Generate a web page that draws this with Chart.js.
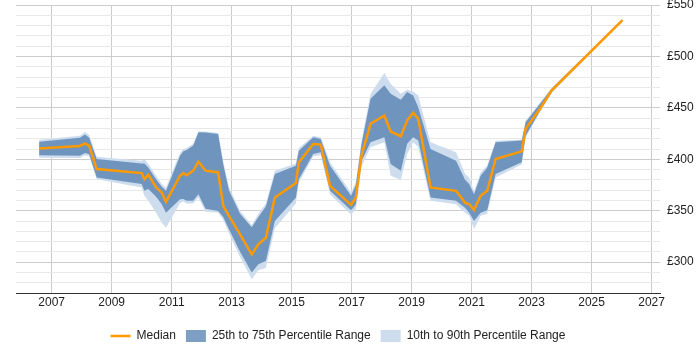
<!DOCTYPE html>
<html>
<head>
<meta charset="utf-8">
<script src="https://cdn.jsdelivr.net/npm/chart.js@4"></script>
<style>
  html, body { margin: 0; padding: 0; background: #fff; }
  #wrap { width: 700px; height: 350px; }
</style>
</head>
<body>
<div id="wrap"><canvas id="myCanvas"></canvas></div>
<script>
// dates as decimal years
const dates = [2006.58, 2007.94, 2008.11, 2008.25, 2008.5, 2010.0, 2010.09, 2010.22, 2010.48, 2010.67,
  2010.81, 2011.28, 2011.39, 2011.5, 2011.72, 2011.89, 2012.13, 2012.55, 2012.72, 2012.91,
  2013.28, 2013.67, 2013.89, 2014.14, 2014.44, 2015.14, 2015.24, 2015.72, 2015.97, 2016.28,
  2016.98, 2017.14, 2017.33, 2017.63, 2018.09, 2018.3, 2018.64, 2018.85, 2019.05, 2019.22,
  2019.63, 2020.48, 2020.78, 2020.92, 2021.08, 2021.3, 2021.52, 2021.8, 2022.67, 2022.8,
  2023.28, 2023.67, 2026.03];

const median = [410.4, 413, 415.5, 413, 390.5, 386.6, 380.7, 385, 372.6, 367.7,
  358.6, 384, 386.6, 384.5, 388.9, 397.7, 388.9, 387.2, 354.7, 344.9,
  327, 307.5, 317.3, 323.7, 362.8, 377, 397, 414.9, 414.3, 374.2,
  355.7, 362.8, 404, 434.5, 442.6, 427, 422.4, 437.7, 445.2, 439.3,
  372.6, 369.3, 357.9, 356.3, 350.8, 364.5, 369.3, 400.3, 407.7, 429.6,
  449.1, 467, 535.4];

const p25 = [404, 403.5, 406, 405, 382.4, 376, 369.3, 371, 363.5, 356.3,
  348, 361.2, 361.5, 359.6, 359.6, 366, 352, 349.8, 344, 332,
  310, 290, 298, 301, 340, 362.5, 380.7, 405.2, 406.8, 369.3,
  350.5, 356, 398.6, 416.5, 421.4, 395.4, 388.9, 415, 421.4, 418.2,
  362.8, 359.6, 353, 348, 340, 348, 350.5, 385.6, 397, 423,
  447, 465.3, 535];

const p75 = [417, 421, 424, 421, 400.3, 396, 396, 392, 380.7, 373.2,
  369.3, 403.5, 407.7, 409, 413.3, 426.3, 426, 424.7, 395, 370,
  347, 334, 344, 354, 385.6, 393.7, 408.4, 421.4, 419.8, 393.7,
  364.5, 375, 415, 458.9, 471.9, 463.8, 457.9, 465.3, 462.1, 450.7,
  410, 398.6, 380, 375.9, 366, 384, 392, 416.5, 418.2, 436,
  454, 468.6, 536];

const p10 = [401.5, 401.3, 404, 403, 380.7, 372.6, 364.5, 359.6, 348, 338.4,
  333.5, 357.6, 359, 357, 357, 363, 349, 348, 341, 328,
  305, 283.4, 292, 294.4, 333, 357, 377.5, 403, 404, 366,
  346, 352, 393, 411.6, 416.5, 384, 380, 405, 416.5, 412,
  359.6, 356.3, 348, 345, 332.2, 345, 347, 382.4, 395, 421,
  446, 464.5, 534.5];

const p90 = [419, 423, 426.5, 423.5, 402.5, 398.6, 400, 395.6, 384, 375.9,
  372.6, 406.4, 410, 411, 415, 427, 427, 425.5, 398, 373,
  350, 336, 347, 357, 388.9, 396, 411, 423, 421.5, 397,
  367.7, 378, 418, 463.8, 484, 473.5, 463.8, 467.7, 466, 462.1,
  416.5, 406.8, 386, 382.4, 369, 387.2, 394, 418, 419, 437.7,
  455, 469.5, 536.5];

const yearTicks = [2007, 2009, 2011, 2013, 2015, 2017, 2019, 2021, 2023, 2025, 2027];

const pts = arr => arr.map((v, i) => ({x: dates[i], y: v}));

const darkBand = 'rgba(71,118,171,0.7)';
const lightBand = 'rgb(205,221,238)';
const orange = '#ff9900';

Chart.defaults.font.family = 'Arial, "Liberation Sans", sans-serif';
Chart.defaults.font.size = 12;
Chart.defaults.color = '#333';

// center the legend under the plot area instead of the whole canvas
const legendShift = {
  id: 'legendShift',
  afterLayout(chart) {
    const lg = chart.legend;
    const mid = (chart.chartArea.left + chart.chartArea.right) / 2;
    const d = mid - (lg.left + lg.right) / 2;
    lg.left += d;
    lg.right += d;
  }
};

const config = {
  type: 'line',
  data: {
    datasets: [
      {
        label: 'Median',
        data: pts(median),
        borderColor: orange,
        backgroundColor: orange,
        borderWidth: 2.5,
        pointRadius: 0,
        pointStyle: 'line',
        fill: false,
        order: 0
      },
      {
        label: '25th to 75th Percentile Range',
        data: pts(p75),
        borderWidth: 0,
        borderColor: darkBand,
        backgroundColor: darkBand,
        pointRadius: 0,
        pointStyle: 'rect',
        fill: {target: 2},
        order: 1
      },
      {
        label: 'p25',
        data: pts(p25),
        borderWidth: 0,
        borderColor: 'rgba(0,0,0,0)',
        pointRadius: 0,
        fill: false,
        order: 1
      },
      {
        label: '10th to 90th Percentile Range',
        data: pts(p90),
        borderWidth: 0,
        borderColor: lightBand,
        backgroundColor: lightBand,
        pointRadius: 0,
        pointStyle: 'rect',
        fill: {target: 4},
        order: 2
      },
      {
        label: 'p10',
        data: pts(p10),
        borderWidth: 0,
        borderColor: 'rgba(0,0,0,0)',
        pointRadius: 0,
        fill: false,
        order: 2
      }
    ]
  },
  options: {
    responsive: true,
    maintainAspectRatio: false,
    animation: false,
    layout: {padding: {left: 16, right: 0, top: 5, bottom: -2}},
    plugins: {
      tooltip: {enabled: false},
      legend: {
        position: 'bottom',
        labels: {
          filter: item => item.text !== 'p25' && item.text !== 'p10',
          usePointStyle: true,
          pointStyleWidth: 20,
          boxHeight: 12,
          padding: 10,
          color: '#222'
        }
      }
    },
    scales: {
      x: {
        type: 'linear',
        min: 2005.81,
        max: 2027.28,
        afterBuildTicks: scale => {
          scale.ticks = yearTicks.map(v => ({value: v}));
        },
        afterFit: scale => { scale.height = 27; },
        ticks: {
          callback: v => String(v),
          maxRotation: 0,
          autoSkip: false,
          padding: 2,
          color: '#222'
        },
        grid: {color: '#cccccc', drawTicks: false},
        border: {color: '#333', width: 1}
      },
      y: {
        position: 'right',
        min: 270,
        max: 550,
        afterFit: scale => {
          scale.width = 40;
          scale.paddingTop = 0;
          scale.paddingBottom = 0;
        },
        ticks: {
          stepSize: 10,
          autoSkip: false,
          padding: 7,
          color: '#222',
          callback: v => (v % 50 === 0 ? '£' + v : '')
        },
        grid: {
          drawTicks: false,
          color: ctx => (ctx.tick && ctx.tick.value % 50 === 0 ? '#cccccc' : '#e8e8e8')
        },
        border: {display: false}
      }
    }
  },
  plugins: [legendShift]
};

const myChart = new Chart(document.getElementById('myCanvas'), config);
</script>
</body>
</html>
